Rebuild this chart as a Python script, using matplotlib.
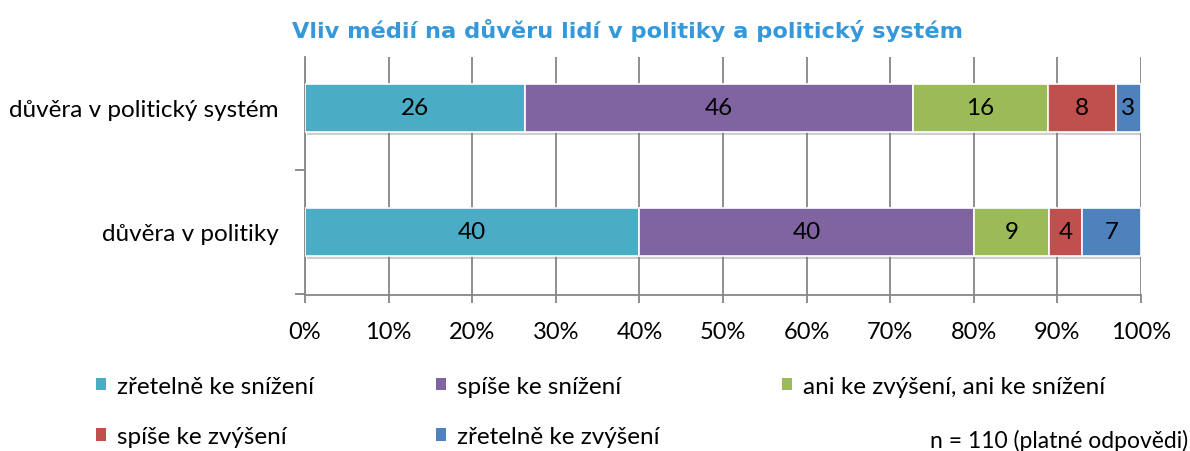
import matplotlib
matplotlib.use("Agg")
import matplotlib.pyplot as plt
from matplotlib import patheffects as pe
from matplotlib.patches import Patch
from matplotlib.ticker import FuncFormatter, FixedLocator

# ---- data ----
categories = ["důvěra v politiky", "důvěra v politický systém"]
series_names = ["zřetelně ke snížení", "spíše ke snížení",
                "ani ke zvýšení, ani ke snížení", "spíše ke zvýšení",
                "zřetelně ke zvýšení"]
zretelne_snizeni = [40, 26]
spise_snizeni = [40, 46]
ani_ani = [9, 16]
spise_zvyseni = [4, 8]
zretelne_zvyseni = [7, 3]
xtick_values = [0, 10, 20, 30, 40, 50, 60, 70, 80, 90, 100]
title = "Vliv médií na důvěru lidí v politiky a politický systém"
note = "n = 110 (platné odpovědi)"

colors = ["#4BACC6", "#8064A2", "#9BBB59", "#C0504D", "#4F81BD"]
series = [zretelne_snizeni, spise_snizeni, ani_ani, spise_zvyseni, zretelne_zvyseni]

plt.rcParams['font.family'] = ['Lato', 'DejaVu Sans']

W, H = 1190, 452
fig = plt.figure(figsize=(W / 100, H / 100), dpi=100)
ax = fig.add_axes([305 / W, 1 - 296 / H, (1141 - 305) / W, (296 - 58) / H])

totals = [sum(s[i] for s in series) for i in range(len(categories))]
ypos = list(range(len(categories)))
left = [0.0] * len(categories)
shadow = [pe.SimplePatchShadow(offset=(1.5, -2.5), shadow_rgbFace="#777777", alpha=0.35), pe.Normal()]
for name, vals, col in zip(series_names, series, colors):
    widths = [v / t * 100 for v, t in zip(vals, totals)]
    bars = ax.barh(ypos, widths, left=left, height=0.387, color=col,
                   edgecolor="white", linewidth=1.2, label=name, zorder=3)
    for b in bars:
        b.set_path_effects(shadow)
    ax.bar_label(bars, labels=[str(v) for v in vals], label_type="center",
                 fontsize=17.5, color="black", zorder=4)
    left = [l + w for l, w in zip(left, widths)]

ax.set_xlim(0, 100)
ax.set_ylim(-0.508, 1.411)
ax.set_xticks(xtick_values)
ax.xaxis.set_major_formatter(FuncFormatter(lambda v, p: f"{int(v)}%"))
ax.set_yticks(ypos)
ax.set_yticklabels(categories)
ax.yaxis.set_minor_locator(FixedLocator([-0.5, 0.5]))

gray = "#868686"
ax.set_axisbelow(True)
ax.xaxis.grid(True, color=gray, linewidth=1.3, zorder=0)
for s in ["top", "right"]:
    ax.spines[s].set_visible(False)
for s in ["left", "bottom"]:
    ax.spines[s].set_color(gray)
    ax.spines[s].set_linewidth(1.3)
ax.tick_params(axis="x", direction="out", length=6, width=1.3, color=gray,
               labelsize=17, pad=13)
ax.tick_params(axis="y", which="major", length=0, labelsize=17.5, pad=19)
ax.tick_params(axis="y", which="minor", direction="out", length=7, width=1.3, color=gray)

fig.text(627 / W, 1 - 30 / H, title, ha="center", va="center", fontsize=16.2,
         fontweight="bold", color="#3598DB", family=["DejaVu Sans"])

handles = [Patch(facecolor=c, edgecolor="none") for c in colors]
order = [0, 3, 1, 4, 2]
fig.legend([handles[i] for i in order], [series_names[i] for i in order],
           ncol=3, loc="upper left", bbox_to_anchor=(96 / W, 1 - 377 / H),
           frameon=False, fontsize=17.5, handlelength=0.4, handleheight=0.4,
           handletextpad=0.45, columnspacing=5.05, labelspacing=1.2, borderpad=0,
           borderaxespad=0)

fig.text(1188 / W, 1 - 441 / H, note, ha="right", va="center", fontsize=16.5)

fig.savefig("out.png", dpi=100)
